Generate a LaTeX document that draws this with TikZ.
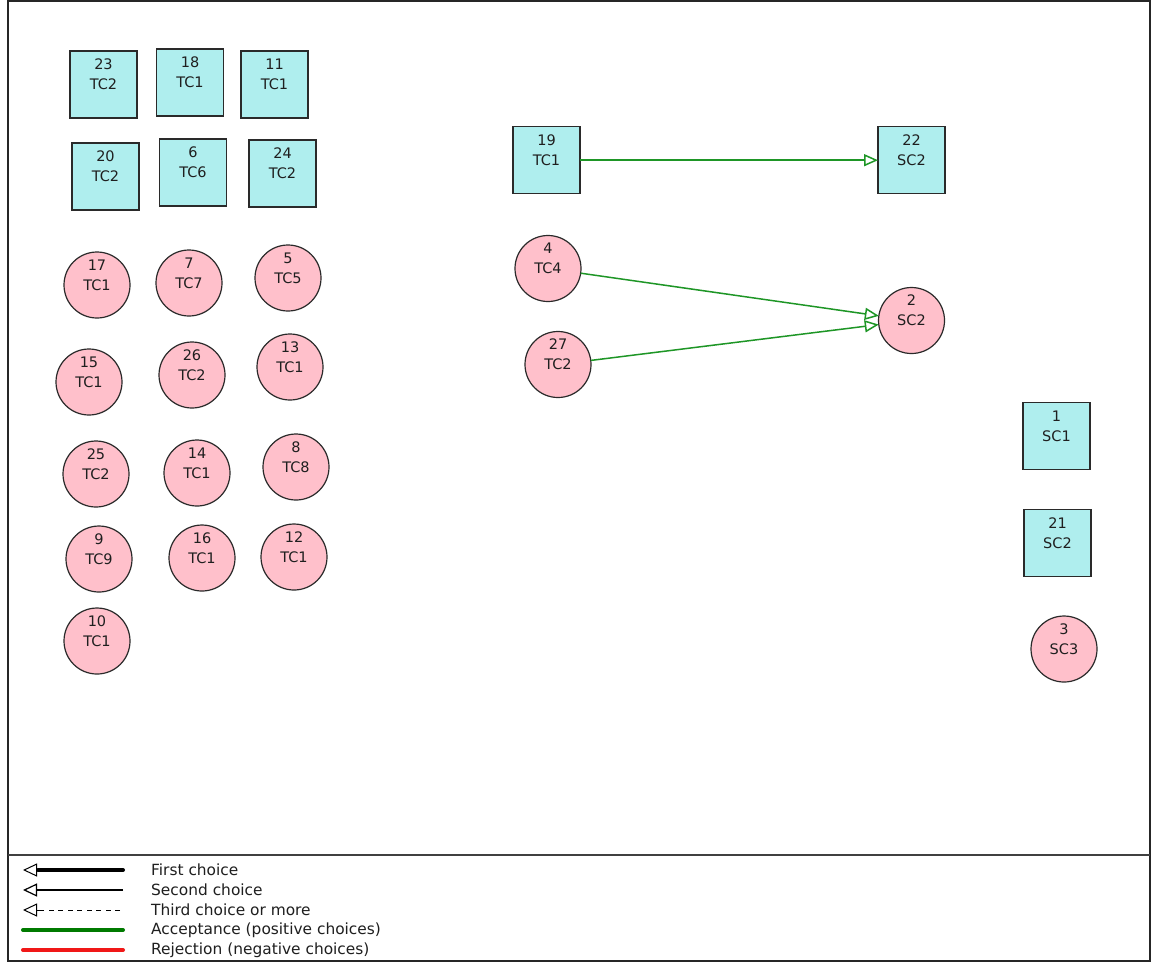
\documentclass[tikz,border=0pt]{standalone}
\usepackage{fontspec}
\setmainfont{DejaVu Sans}
\usetikzlibrary{arrows.meta}
\definecolor{boxcyan}{HTML}{AFEEEE}
\definecolor{discpink}{HTML}{FFC0CB}
\definecolor{accgreen}{HTML}{1E9626}
\definecolor{legendgreen}{HTML}{007A00}
\definecolor{rejred}{HTML}{F01818}
\definecolor{rimgray}{HTML}{2A2A2A}

% square member: name, position, number, group
\newcommand\sqmember[4]{%
  \node[sq] (#1) at (#2) {};
  \node[tag] (#1l) at ([yshift=10pt]#1.center) {#3\\#4};}
% round member: name, position, number, group
\newcommand\discmember[4]{%
  \node[disc] (#1) at (#2) {};
  \node[tag] (#1l) at ([yshift=10pt]#1.center) {#3\\#4};}

\begin{document}
\begin{tikzpicture}[x=1pt,y=-1pt,
  member/.style={draw=rimgray, line width=1.2pt, inner sep=0pt, outer sep=0pt},
  sq/.style={member, rectangle, fill=boxcyan, minimum width=67pt, minimum height=67pt},
  disc/.style={member, circle, fill=discpink, minimum size=66pt},
  tag/.style={font=\fontsize{14.5}{20}\selectfont, align=center, inner sep=0pt, text=black!88},
  choice/.style={draw=accgreen, line width=1.5pt, -{Triangle[open, length=14pt, width=12pt]}},
  legendtext/.style={font=\fontsize{15.4}{20}\selectfont, anchor=west, inner sep=0pt, text=black!88},
  opentip/.style={-{Triangle[open, length=14pt, width=13pt]}, line width=1pt}
]
\useasboundingbox (0,0) rectangle (1155,962);
\fill[white] (0,0) rectangle (1155,962);

% frame and legend separator
\draw[line width=1.5pt, draw=black!85] (8,1) rectangle (1150,961);
\draw[line width=1.2pt, draw=black!75] (8,855) -- (1150,855);

% squares
\sqmember{n23}{103.5,84.5}{23}{TC2}
\sqmember{n18}{190,82.5}{18}{TC1}
\sqmember{n11}{274.5,84.5}{11}{TC1}
\sqmember{n20}{105.5,176.5}{20}{TC2}
\sqmember{n6}{193,172.5}{6}{TC6}
\sqmember{n24}{282.5,173.5}{24}{TC2}
\sqmember{n19}{546.5,160.2}{19}{TC1}
\sqmember{n22}{911.5,160.2}{22}{SC2}
\sqmember{n1}{1056.5,436}{1}{SC1}
\sqmember{n21}{1057.5,543}{21}{SC2}

% circles
\discmember{n17}{97,285}{17}{TC1}
\discmember{n7}{189,283}{7}{TC7}
\discmember{n5}{288,278}{5}{TC5}
\discmember{n15}{89,382}{15}{TC1}
\discmember{n26}{192,375}{26}{TC2}
\discmember{n13}{290,367}{13}{TC1}
\discmember{n25}{96,474}{25}{TC2}
\discmember{n14}{197,473}{14}{TC1}
\discmember{n8}{296,467}{8}{TC8}
\discmember{n9}{99,559}{9}{TC9}
\discmember{n16}{202,558}{16}{TC1}
\discmember{n12}{294,557}{12}{TC1}
\discmember{n10}{97,641}{10}{TC1}
\discmember{n4}{548,268.5}{4}{TC4}
\discmember{n27}{558,364.5}{27}{TC2}
\discmember{n2}{911.5,320.5}{2}{SC2}
\discmember{n3}{1064,649}{3}{SC3}

% choices
\draw[choice] (n19) -- (n22);
\draw[choice] (n4) -- (n2);
\draw[choice] (n27) -- (n2);

% legend samples
\coordinate (k1a) at (23,870);  \coordinate (k1b) at (123,870);
\coordinate (k2a) at (23,890);  \coordinate (k2b) at (123,890);
\coordinate (k3a) at (23,910);  \coordinate (k3b) at (120,910);
\coordinate (k4a) at (23,930);  \coordinate (k4b) at (123,930);
\coordinate (k5a) at (23,950);  \coordinate (k5b) at (123,950);

\draw[opentip] ([xshift=-14pt]k1b) -- (k1a);
\draw[line width=4pt, line cap=round] (k1b) -- ([xshift=15pt]k1a);
\draw[opentip, line width=1.2pt] (k2b) -- (k2a);
\draw[opentip] ([xshift=16pt]k3a) -- (k3a);
\draw[line width=1pt, dash pattern=on 5pt off 4.5pt] (k3b) -- ([xshift=16pt]k3a);
\draw[line width=4pt, line cap=round, draw=legendgreen] (k4a) -- (k4b);
\draw[line width=4pt, line cap=round, draw=rejred] (k5a) -- (k5b);

\node[legendtext] (t1) at (151,870) {First choice};
\node[legendtext] (t2) at (151,890) {Second choice};
\node[legendtext] (t3) at (151,910) {Third choice or more};
\node[legendtext] (t4) at (151,930) {Acceptance (positive choices)};
\node[legendtext] (t5) at (151,950) {Rejection (negative choices)};
\end{tikzpicture}
\end{document}
